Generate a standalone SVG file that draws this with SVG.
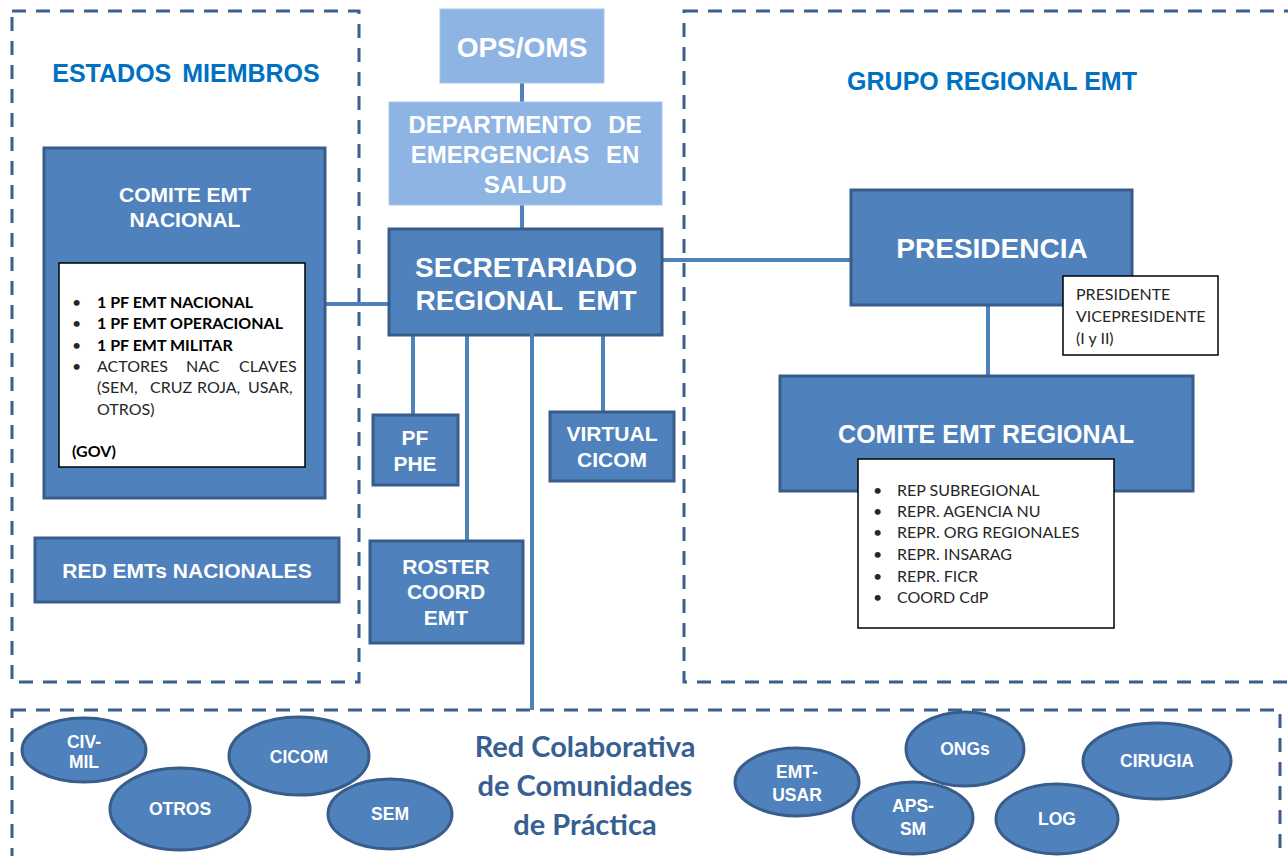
<svg xmlns="http://www.w3.org/2000/svg" width="1288" height="856" viewBox="0 0 1288 856">
<style>
.dash{fill:none;stroke:#3b5f8e;stroke-width:3;stroke-dasharray:14 10}
.node{fill:#4f81bd;stroke:#385d8a;stroke-width:3}
.light{fill:#8eb4e3;stroke:#a9c5ea;stroke-width:1}
.wb{fill:#fff;stroke:#000;stroke-width:1.5}
.conn{stroke:#4f81bd;stroke-width:4;fill:none}
.t{font-family:"Liberation Sans",Arial,sans-serif;font-weight:bold;fill:#fff;text-anchor:middle}
.h{font-family:"Liberation Sans",Arial,sans-serif;font-weight:bold;fill:#0070c0;text-anchor:middle;font-size:25px}
.c{font-family:Lato,"Open Sans",sans-serif;fill:#262626;font-size:16px}
.cb{font-weight:bold;fill:#000}
.red{font-family:Lato,"Open Sans",sans-serif;font-weight:bold;fill:#376092;font-size:29px;text-anchor:middle}
.e{font-size:17.5px}
</style>
<rect width="1288" height="856" fill="#fff"/>

<g id="regions">
<rect class="dash" x="12" y="11" width="347" height="671"/>
<rect class="dash" x="684" y="11" width="650" height="671"/>
<rect class="dash" x="12" y="710" width="1268" height="200"/>
<text class="h" x="186" y="82" word-spacing="4">ESTADOS MIEMBROS</text>
<text class="h" x="992" y="90">GRUPO REGIONAL EMT</text>
</g>

<g id="connectors">
<line class="conn" x1="522" y1="83" x2="522" y2="102"/>
<line class="conn" x1="522" y1="205" x2="522" y2="229"/>
<line class="conn" x1="326" y1="304" x2="389" y2="304"/>
<line class="conn" x1="663" y1="260" x2="851" y2="260"/>
<line class="conn" x1="988" y1="305" x2="988" y2="376"/>
<line class="conn" x1="413" y1="336" x2="413" y2="415"/>
<line class="conn" x1="467" y1="336" x2="467" y2="541"/>
<line class="conn" x1="603" y1="336" x2="603" y2="412"/>
</g>

<g id="ops-oms">
<rect class="light" x="440" y="9" width="164" height="74"/>
<text class="t" x="522" y="57" font-size="28">OPS/OMS</text>
</g>

<g id="departamento">
<rect class="light" x="389" y="102" width="273" height="103"/>
<text class="t" x="525" y="133" font-size="24" word-spacing="10">DEPARTMENTO DE</text>
<text class="t" x="525" y="163" font-size="24" word-spacing="10">EMERGENCIAS EN</text>
<text class="t" x="525" y="193" font-size="24">SALUD</text>
</g>

<g id="secretariado">
<rect class="node" x="389" y="229" width="273" height="106"/>
<text class="t" x="526" y="277" font-size="28">SECRETARIADO</text>
<text class="t" x="526" y="310" font-size="28" word-spacing="7">REGIONAL EMT</text>
</g>

<g id="long-connector">
<line class="conn" x1="532" y1="325" x2="532" y2="710"/>
</g>

<g id="comite-nacional">
<rect class="node" x="44" y="148" width="281" height="350"/>
<text class="t" x="185" y="202" font-size="21">COMITE EMT</text>
<text class="t" x="185" y="227" font-size="21">NACIONAL</text>
<rect class="wb" x="59" y="263" width="246" height="204"/>
<g class="c">
<text x="72" y="308">•</text><text class="cb" x="97" y="308">1 PF EMT NACIONAL</text>
<text x="72" y="329">•</text><text class="cb" x="97" y="329">1 PF EMT OPERACIONAL</text>
<text x="72" y="351">•</text><text class="cb" x="97" y="351">1 PF EMT MILITAR</text>
<text x="72" y="372">•</text><text y="372"><tspan x="97">ACTORES </tspan><tspan x="186">NAC </tspan><tspan x="239">CLAVES</tspan></text>
<text y="393"><tspan x="97">(SEM, </tspan><tspan x="150">CRUZ </tspan><tspan x="197">ROJA, </tspan><tspan x="248">USAR,</tspan></text>
<text x="97" y="415">OTROS)</text>
<text class="cb" x="72" y="457">(GOV)</text>
</g>
</g>

<g id="red-emts">
<rect class="node" x="35" y="538" width="304" height="64"/>
<text class="t" x="187" y="578" font-size="21">RED EMTs NACIONALES</text>
</g>

<g id="pf-phe">
<rect class="node" x="373" y="415" width="85" height="70"/>
<text class="t" x="415" y="445" font-size="21">PF</text>
<text class="t" x="415" y="471" font-size="21">PHE</text>
</g>

<g id="roster">
<rect class="node" x="370" y="541" width="153" height="102"/>
<text class="t" x="446" y="574" font-size="21">ROSTER</text>
<text class="t" x="446" y="599" font-size="21">COORD</text>
<text class="t" x="446" y="625" font-size="21">EMT</text>
</g>

<g id="virtual-cicom">
<rect class="node" x="550" y="412" width="124" height="69"/>
<text class="t" x="612" y="441" font-size="21">VIRTUAL</text>
<text class="t" x="612" y="467" font-size="21">CICOM</text>
</g>

<g id="presidencia">
<rect class="node" x="851" y="190" width="281" height="115"/>
<text class="t" x="992" y="258" font-size="28">PRESIDENCIA</text>
<rect class="wb" x="1063" y="276" width="155" height="79"/>
<g class="c">
<text x="1076" y="300">PRESIDENTE</text>
<text x="1076" y="322">VICEPRESIDENTE</text>
<text x="1076" y="344">(I y II)</text>
</g>
</g>

<g id="comite-regional">
<rect class="node" x="780" y="376" width="413" height="115"/>
<text class="t" x="986" y="443" font-size="25">COMITE EMT REGIONAL</text>
<rect class="wb" x="858" y="459" width="256" height="169"/>
<g class="c">
<text x="873" y="496">•</text><text x="897" y="496">REP SUBREGIONAL</text>
<text x="873" y="517">•</text><text x="897" y="517">REPR. AGENCIA NU</text>
<text x="873" y="538">•</text><text x="897" y="538">REPR. ORG REGIONALES</text>
<text x="873" y="560">•</text><text x="897" y="560">REPR. INSARAG</text>
<text x="873" y="582">•</text><text x="897" y="582">REPR. FICR</text>
<text x="873" y="603">•</text><text x="897" y="603">COORD CdP</text>
</g>
</g>

<g id="red-colaborativa">
<text class="red" x="585" y="757">Red Colaborativa</text>
<text class="red" x="585" y="796">de Comunidades</text>
<text class="red" x="585" y="835">de Práctica</text>
</g>

<g id="civ-mil"><ellipse class="node" cx="84" cy="750" rx="62" ry="32"/><text class="t e" x="84" y="748">CIV-</text><text class="t e" x="84" y="768">MIL</text></g>
<g id="otros"><ellipse class="node" cx="180" cy="809" rx="70" ry="41"/><text class="t e" x="180" y="815">OTROS</text></g>
<g id="cicom"><ellipse class="node" cx="299" cy="756" rx="70" ry="39"/><text class="t e" x="299" y="763">CICOM</text></g>
<g id="sem"><ellipse class="node" cx="390" cy="814" rx="62" ry="35"/><text class="t e" x="390" y="820">SEM</text></g>
<g id="emt-usar"><ellipse class="node" cx="797" cy="782" rx="62" ry="34"/><text class="t e" x="797" y="778">EMT-</text><text class="t e" x="797" y="801">USAR</text></g>
<g id="ongs"><ellipse class="node" cx="965" cy="749" rx="59" ry="37"/><text class="t e" x="965" y="755">ONGs</text></g>
<g id="aps-sm"><ellipse class="node" cx="913" cy="818" rx="60" ry="36"/><text class="t e" x="913" y="812">APS-</text><text class="t e" x="913" y="835">SM</text></g>
<g id="log"><ellipse class="node" cx="1057" cy="819" rx="61" ry="35"/><text class="t e" x="1057" y="825">LOG</text></g>
<g id="cirugia"><ellipse class="node" cx="1157" cy="761" rx="74" ry="38"/><text class="t e" x="1157" y="767">CIRUGIA</text></g>
</svg>
